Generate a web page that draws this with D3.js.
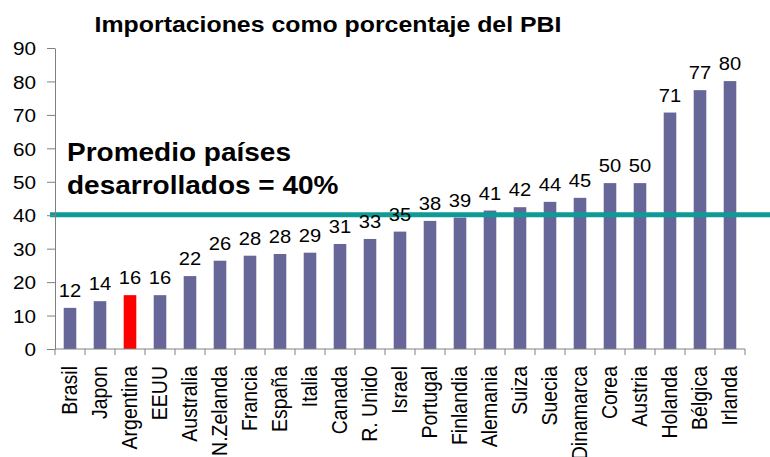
<!DOCTYPE html>
<html>
<head>
<meta charset="utf-8">
<script src="https://cdn.jsdelivr.net/npm/d3@7"></script>
<style>
  body { margin: 0; background: #fff; }
  svg { font-family: "Liberation Sans", Arial, sans-serif; }
</style>
</head>
<body>
<div id="grafico"></div>
<script>
// datos
const paises = ['Brasil','Japon','Argentina','EEUU','Australia','N.Zelanda','Francia','España','Italia',
  'Canada','R. Unido','Israel','Portugal','Finlandia','Alemania','Suiza','Suecia','Dinamarca',
  'Corea','Austria','Holanda','Bélgica','Irlanda'];
const importaciones = [12.3, 14.3, 16.1, 16.1, 21.8, 26.4, 27.9, 28.4, 28.8, 31.4, 32.9, 35.1, 38.3,
  39.3, 41.4, 42.4, 44.0, 45.2, 49.6, 49.6, 70.7, 77.4, 80.1];
const promedio = 40;
const yTicks = [0,10,20,30,40,50,60,70,80,90];

const width = 770, height = 457;
const margin = { top: 48, left: 55, right: 25, bottom: 108 };
//el texto del original esta un poco ensanchado
const estirar = 1.12;

const svg = d3.select('#grafico').append('svg')
  .attr('width', width)
  .attr('height', height);

const x = d3.scaleBand()
  .domain(paises)
  .range([margin.left, margin.left + paises.length * 30])
  .paddingInner(0.58)
  .paddingOuter(0.29);

const y = d3.scaleLinear()
  .domain([0, 90])
  .range([height - margin.bottom, margin.top]);

//barras
svg.append('g').selectAll('rect')
  .data(importaciones)
  .join('rect')
  .attr('x', (d, i) => x(paises[i]))
  .attr('y', d => y(d))
  .attr('width', x.bandwidth())
  .attr('height', d => y(0) - y(d))
  .attr('fill', (d, i) => paises[i] == 'Argentina' ? '#ff0000' : '#666699');

//linea del promedio
svg.append('line')
  .attr('x1', 50)
  .attr('x2', width)
  .attr('y1', y(promedio) - 0.5)
  .attr('y2', y(promedio) - 0.5)
  .attr('stroke', '#0e9a96')
  .attr('stroke-width', 5);

//etiquetas de valores
svg.append('g').selectAll('text')
  .data(importaciones)
  .join('text')
  .attr('transform', (d, i) => `translate(${x(paises[i]) + x.bandwidth() / 2},${y(d) - 11}) scale(${estirar},1)`)
  .attr('text-anchor', 'middle')
  .attr('font-size', '18px')
  .attr('fill', '#000')
  .text(d => Math.round(d));

//eje y
const ejeY = svg.append('g')
  .attr('transform', `translate(${margin.left},0)`)
  .call(d3.axisLeft(y).tickValues(yTicks).tickSize(8).tickSizeOuter(0));
ejeY.selectAll('text')
  .attr('x', 0)
  .attr('dy', '0.36em')
  .attr('transform', `translate(-19,0) scale(${estirar},1)`)
  .attr('font-size', '18.5px')
  .attr('fill', '#000')
  .style('font-family', '"Liberation Sans", Arial, sans-serif');
ejeY.selectAll('line').attr('stroke', '#808080');
ejeY.select('.domain').attr('stroke', '#808080');

//eje x (solo ticks entre categorias)
const ejeX = svg.append('g')
  .attr('transform', `translate(0,${y(0)})`);
ejeX.append('line')
  .attr('x1', margin.left).attr('x2', margin.left + paises.length * 30)
  .attr('stroke', '#808080');
ejeX.selectAll('line.tick')
  .data(d3.range(paises.length + 1))
  .join('line')
  .attr('class', 'tick')
  .attr('x1', i => margin.left + i * 30)
  .attr('x2', i => margin.left + i * 30)
  .attr('y1', 0).attr('y2', 6)
  .attr('stroke', '#808080');

ejeX.selectAll('text')
  .data(paises)
  .join('text')
  .attr('transform', d => `translate(${x(d) + x.bandwidth() / 2 + 7},17) scale(${estirar},1) rotate(-90)`)
  .attr('text-anchor', 'end')
  .attr('font-size', '19.5px')
  .attr('fill', '#000')
  .text(d => d);

//titulo
svg.append('text')
  .attr('transform', `translate(328,32) scale(1.13,1)`)
  .attr('text-anchor', 'middle')
  .attr('font-size', '22px')
  .attr('font-weight', 'bold')
  .text('Importaciones como porcentaje del PBI');

//anotacion
const nota = svg.append('g')
  .attr('transform', `translate(67,0) scale(${estirar},1)`)
  .attr('font-size', '25px')
  .attr('font-weight', 'bold');
nota.append('text').attr('y', 161).text('Promedio países');
nota.append('text').attr('y', 194).text('desarrollados = 40%');
</script>
</body>
</html>
